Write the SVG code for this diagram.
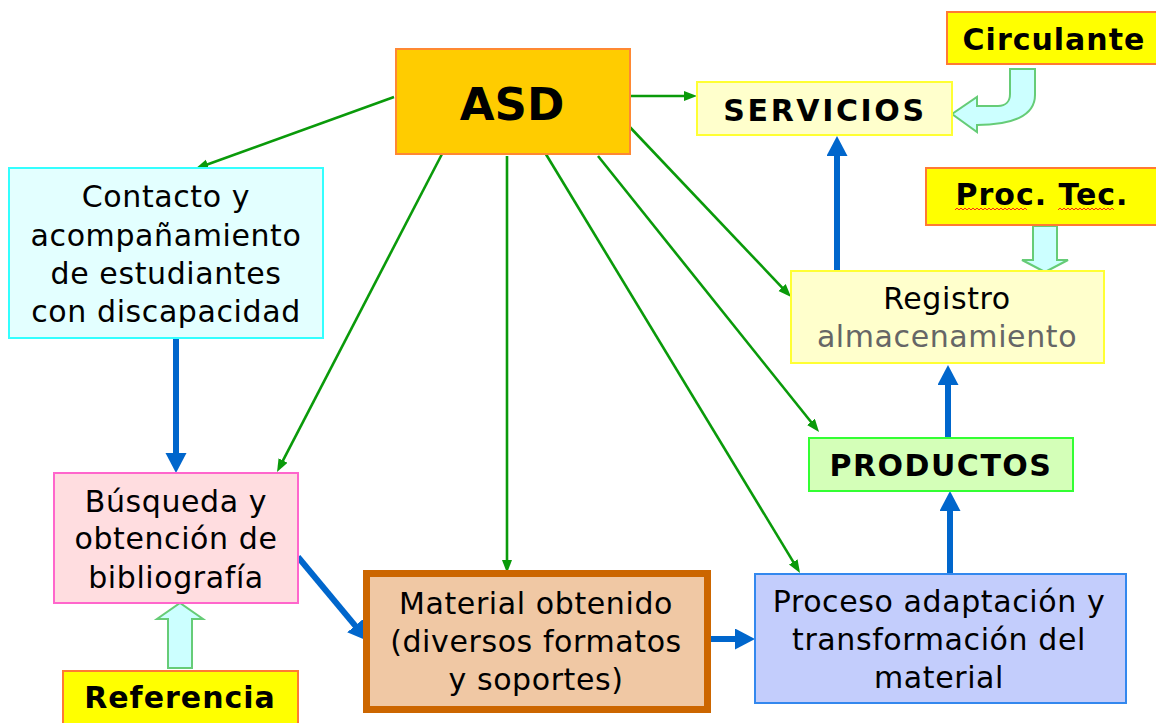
<svg xmlns="http://www.w3.org/2000/svg" width="1156" height="723" viewBox="0 0 1156 723">
<style>
text{font-family:"DejaVu Sans","Liberation Sans",sans-serif;fill:#000;text-anchor:middle}
.t{font-size:30px;letter-spacing:0.6px}
.b{font-size:30px;font-weight:bold;letter-spacing:1px}
.g{stroke:#0a9a0a;stroke-width:2.6;fill:none;marker-end:url(#ga)}
.bl{stroke:#0066cc;stroke-width:6;fill:none;marker-end:url(#ba)}
.blk{fill:#ccffff;stroke:#66cc77;stroke-width:2}
.yel{fill:#ffff00;stroke:#ff7a33;stroke-width:2}
</style>
<defs>
<marker id="ga" markerUnits="userSpaceOnUse" markerWidth="14" markerHeight="12" refX="7" refY="5" orient="auto">
<path d="M0,0 L13,5 L0,10 z" fill="#0a9a0a"/>
</marker>
<marker id="ba" markerUnits="userSpaceOnUse" markerWidth="22" markerHeight="22" refX="10" refY="10.5" orient="auto">
<path d="M0,0 L20,10.5 L0,21 z" fill="#0066cc"/>
</marker>
</defs>
<rect width="1156" height="723" fill="#ffffff"/>

<g id="connectors">
<line class="g" x1="394" y1="97" x2="201" y2="166.8"/>
<line class="g" x1="442" y1="154" x2="279.8" y2="466.7"/>
<line class="g" x1="507" y1="156" x2="507" y2="567"/>
<line class="g" x1="544" y1="151" x2="796.9" y2="567.9"/>
<line class="g" x1="598" y1="156" x2="815.3" y2="427.3"/>
<line class="g" x1="626" y1="123" x2="786.9" y2="292.6"/>
<line class="g" x1="628" y1="96" x2="691" y2="96"/>
<line class="bl" x1="176" y1="338" x2="176" y2="463"/>
<line class="bl" x1="298" y1="557" x2="361.6" y2="633.3"/>
<line class="bl" x1="711" y1="639" x2="745" y2="639"/>
<line class="bl" x1="950" y1="574" x2="950" y2="501"/>
<line class="bl" x1="948" y1="438" x2="948" y2="375"/>
<line class="bl" x1="837" y1="271" x2="837" y2="146"/>
<path class="blk" d="M1010,69 L1035,69 L1035,95 C1035,116 1012,125 977,125 L977,132 L952,114 L977,97 L977,106 L998,106 C1006,106 1010,101 1010,94 Z"/>
<path class="blk" d="M1033,226 L1057,226 L1057,260 L1068,260 L1045,272 L1022,260 L1033,260 Z"/>
<path class="blk" d="M168,668 L192,668 L192,619 L203,619 L180,603 L157,619 L168,619 Z"/>
</g>

<g id="asd">
<rect x="396" y="49" width="234" height="105" fill="#ffcc00" stroke="#ff8833" stroke-width="2"/>
<text x="512" y="120" style="font-size:45px;font-weight:bold;letter-spacing:0">ASD</text>
</g>

<g id="servicios">
<rect x="697" y="82" width="255" height="53" fill="#ffffcc" stroke="#ffff33" stroke-width="2"/>
<text class="b" x="825" y="121" style="letter-spacing:2.6px">SERVICIOS</text>
</g>

<g id="circulante">
<rect class="yel" x="947" y="12" width="215" height="52"/>
<text class="b" x="1054" y="50">Circulante</text>
</g>

<g id="proctec">
<rect class="yel" x="926" y="168" width="236" height="57"/>
<text class="b" x="1042" y="205">Proc. Tec.</text>
<path d="M955,210 l2,-2 l2,2 l2,-2 l2,2 l2,-2 l2,2 l2,-2 l2,2 l2,-2 l2,2 l2,-2 l2,2 l2,-2 l2,2 l2,-2 l2,2 l2,-2 l2,2 l2,-2 l2,2 l2,-2 l2,2 l2,-2 l2,2 l2,-2 l2,2 l2,-2 l2,2 l2,-2 l2,2 l2,-2 l2,2 l2,-2 l2,2 l2,-2 l2,2 M1058,210 l2,-2 l2,2 l2,-2 l2,2 l2,-2 l2,2 l2,-2 l2,2 l2,-2 l2,2 l2,-2 l2,2 l2,-2 l2,2 l2,-2 l2,2 l2,-2 l2,2 l2,-2 l2,2 l2,-2 l2,2 l2,-2 l2,2 l2,-2 l2,2 l2,-2 l2,2" fill="none" stroke="#ff2020" stroke-width="1"/>
</g>

<g id="contacto">
<rect x="9" y="168" width="314" height="170" fill="#e3ffff" stroke="#33ffff" stroke-width="2"/>
<text class="t" x="166" y="207">Contacto y</text>
<text class="t" x="166" y="246">acompañamiento</text>
<text class="t" x="166" y="284">de estudiantes</text>
<text class="t" x="166" y="322">con discapacidad</text>
</g>

<g id="busqueda">
<rect x="54" y="473" width="244" height="130" fill="#ffdde0" stroke="#ff66cc" stroke-width="2"/>
<text class="t" x="176" y="512">Búsqueda y</text>
<text class="t" x="176" y="549">obtención de</text>
<text class="t" x="176" y="588">bibliografía</text>
</g>

<g id="referencia">
<rect class="yel" x="63" y="671" width="235" height="60"/>
<text class="b" x="180" y="708">Referencia</text>
</g>

<g id="material">
<rect x="366.5" y="573.5" width="341" height="136" fill="#f0c8a4" stroke="#cc6600" stroke-width="7"/>
<text class="t" x="536" y="614">Material obtenido</text>
<text class="t" x="536" y="652">(diversos formatos</text>
<text class="t" x="536" y="690">y soportes)</text>
</g>

<g id="proceso">
<rect x="755" y="574" width="371" height="129" fill="#c3cdfc" stroke="#3388ee" stroke-width="2"/>
<text class="t" x="939" y="612">Proceso adaptación y</text>
<text class="t" x="939" y="650">transformación del</text>
<text class="t" x="939" y="688">material</text>
</g>

<g id="registro">
<rect x="791" y="271" width="313" height="92" fill="#ffffcc" stroke="#ffff33" stroke-width="2"/>
<text class="t" x="947" y="309">Registro</text>
<text class="t" x="947" y="347" style="fill:#666666">almacenamiento</text>
</g>

<g id="productos">
<rect x="809" y="438" width="264" height="53" fill="#d4ffb8" stroke="#33ff33" stroke-width="2"/>
<text class="b" x="941" y="476" style="letter-spacing:1.5px">PRODUCTOS</text>
</g>
</svg>
